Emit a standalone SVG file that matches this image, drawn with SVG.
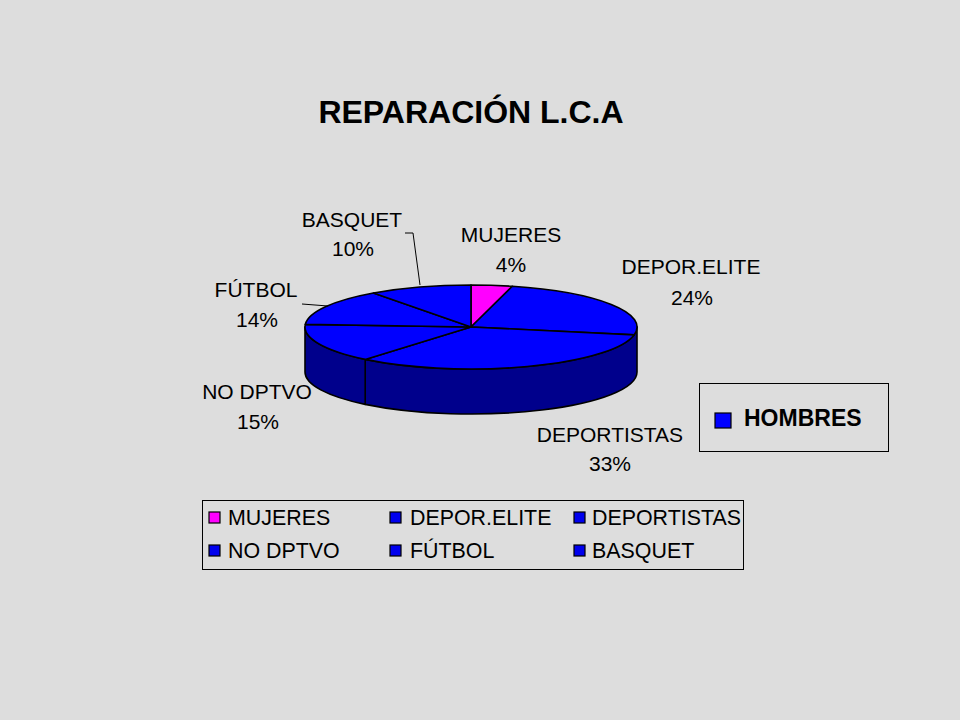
<svg xmlns="http://www.w3.org/2000/svg" width="960" height="720" viewBox="0 0 960 720">
<style>
.lbl{font-family:"Liberation Sans",Arial,sans-serif;font-size:21px;fill:#000;text-anchor:middle}
.leg{font-family:"Liberation Sans",Arial,sans-serif;font-size:21.4px;fill:#000}
.top{stroke:#000;stroke-width:1.6;stroke-linejoin:round}
.side{fill:#00008C;stroke:#000;stroke-width:1.6;stroke-linejoin:round}
.sw{stroke:#000;stroke-width:1.2}
.ln{stroke:#000;stroke-width:1;fill:none}
</style>
<rect width="960" height="720" fill="#DDDDDD"/>
<text x="471" y="123" font-family="'Liberation Sans',Arial,sans-serif" font-weight="bold" font-size="32" text-anchor="middle">REPARACIÓN L.C.A</text>
<g id="pie">
<g id="side">
<path class="side" d="M637,327 A166,42 0 0 1 365.2,359.4 L365.2,404.4 A166,42 0 0 0 637,372 Z"/>
<path class="side" d="M365.2,359.4 A166,42 0 0 1 305,327 L305,372 A166,42 0 0 0 365.2,404.4 Z"/>
</g>
<g id="slice-mujeres"><path class="top" fill="#FF00FF" d="M471,327 L471,285 A166,42 0 0 1 512.3,286.3 Z"/></g>
<g id="slice-deporelite"><path class="top" fill="#0000FF" d="M471,327 L512.3,286.3 A166,42 0 0 1 634.1,334.9 Z"/></g>
<g id="slice-deportistas"><path class="top" fill="#0000FF" d="M471,327 L634.1,334.9 A166,42 0 0 1 365.2,359.4 Z"/></g>
<g id="slice-nodptvo"><path class="top" fill="#0000FF" d="M471,327 L365.2,359.4 A166,42 0 0 1 305.3,324.4 Z"/></g>
<g id="slice-futbol"><path class="top" fill="#0000FF" d="M471,327 L305.3,324.4 A166,42 0 0 1 373.4,293 Z"/></g>
<g id="slice-basquet"><path class="top" fill="#0000FF" d="M471,327 L373.4,293 A166,42 0 0 1 471,285 Z"/></g>
</g>
<g id="connectors">
<polyline class="ln" points="405,233 413,233 420,285"/>
<polyline class="ln" points="302,304 328,306"/>
</g>
<g id="labels">
<g id="lbl-mujeres"><text class="lbl" x="511" y="242">MUJERES</text><text class="lbl" x="511" y="272">4%</text></g>
<g id="lbl-deporelite"><text class="lbl" x="691" y="274">DEPOR.ELITE</text><text class="lbl" x="692" y="305">24%</text></g>
<g id="lbl-deportistas"><text class="lbl" x="610" y="442">DEPORTISTAS</text><text class="lbl" x="610" y="471">33%</text></g>
<g id="lbl-nodptvo"><text class="lbl" x="257" y="399">NO DPTVO</text><text class="lbl" x="258" y="429">15%</text></g>
<g id="lbl-futbol"><text class="lbl" x="256" y="297">FÚTBOL</text><text class="lbl" x="257" y="327">14%</text></g>
<g id="lbl-basquet"><text class="lbl" x="352" y="227">BASQUET</text><text class="lbl" x="353" y="256">10%</text></g>
</g>
<g id="legend-hombres">
<rect x="699.5" y="383.5" width="189" height="68" fill="none" stroke="#000" stroke-width="1"/>
<rect class="sw" x="715" y="413" width="16" height="15" fill="#0000FF"/>
<text x="744" y="426" font-family="'Liberation Sans',Arial,sans-serif" font-weight="bold" font-size="23">HOMBRES</text>
</g>
<g id="legend">
<rect x="202.5" y="500.5" width="541" height="69" fill="none" stroke="#000" stroke-width="1"/>
<rect class="sw" x="209" y="512" width="11" height="11" fill="#FF00FF"/>
<text class="leg" x="228" y="525">MUJERES</text>
<rect class="sw" x="390" y="512" width="11" height="11" fill="#0000EE"/>
<text class="leg" x="410" y="525">DEPOR.ELITE</text>
<rect class="sw" x="574" y="512" width="11" height="11" fill="#0000EE"/>
<text class="leg" x="592" y="525">DEPORTISTAS</text>
<rect class="sw" x="209" y="545" width="11" height="11" fill="#0000EE"/>
<text class="leg" x="228" y="558">NO DPTVO</text>
<rect class="sw" x="390" y="545" width="11" height="11" fill="#0000EE"/>
<text class="leg" x="410" y="558">FÚTBOL</text>
<rect class="sw" x="574" y="545" width="11" height="11" fill="#0000EE"/>
<text class="leg" x="592" y="558">BASQUET</text>
</g>
</svg>
